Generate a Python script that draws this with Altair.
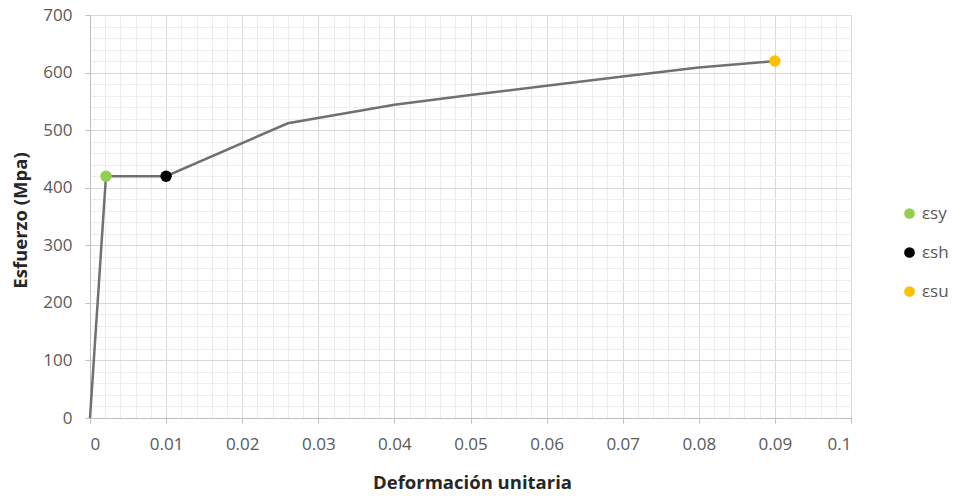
import altair as alt
import pandas as pd

# Stress-strain curve
strain = [0, 0.0021, 0.01, 0.026, 0.04, 0.05, 0.06, 0.07, 0.08, 0.09]
stress = [0, 420, 420, 512, 544, 561, 577, 593, 609, 620]

# Marked points
point_labels = ["εsy", "εsh", "εsu"]
point_strain = [0.0021, 0.01, 0.09]
point_stress = [420, 420, 620]
point_colors = ["#92d050", "#000000", "#ffc000"]

# Axis tick/grid values
x_grid = [round(i * 0.002, 3) for i in range(51)]
y_grid = [i * 20 for i in range(36)]

curve = pd.DataFrame({"strain": strain, "stress": stress})
pts = pd.DataFrame({"strain": point_strain, "stress": point_stress, "label": point_labels})

FONT = "Open Sans"
x_major = "abs(datum.value*100 - round(datum.value*100)) < 0.001"
y_major = "datum.value % 100 === 0"

x_axis = alt.Axis(
    values=x_grid,
    labelExpr=f"{x_major} ? format(datum.value, '~g') : ''",
    labelOverlap=False,
    gridColor={"condition": {"test": x_major, "value": "#d9d9d9"}, "value": "#ededed"},
    tickOpacity={"condition": {"test": x_major, "value": 1}, "value": 0},
    tickColor="#bfbfbf",
    tickSize=5,
    domainColor="#bfbfbf",
    labelFont=FONT, labelFontSize=17, labelColor="#595959", labelPadding=13,
    title="Deformación unitaria",
    titleFont=FONT, titleFontSize=18.5, titleFontWeight="bold", titleColor="#262626",
    titleX=382, titleY=64, titleBaseline="middle", titleAlign="center",
)
y_axis = alt.Axis(
    values=y_grid,
    labelExpr=f"{y_major} ? format(datum.value, 'd') : ''",
    labelOverlap=False,
    gridColor={"condition": {"test": y_major, "value": "#d9d9d9"}, "value": "#ededed"},
    tickOpacity={"condition": {"test": y_major, "value": 1}, "value": 0},
    tickColor="#bfbfbf",
    tickSize=5,
    domainColor="#bfbfbf",
    labelFont=FONT, labelFontSize=17, labelColor="#595959", labelPadding=13,
    title="Esfuerzo (Mpa)",
    titleFont=FONT, titleFontSize=18.5, titleFontWeight="bold", titleColor="#262626",
    titleX=-70, titleY=205, titleAngle=270, titleBaseline="middle", titleAlign="center",
)

xs = alt.Scale(domain=[0, 0.1], nice=False)
ys = alt.Scale(domain=[0, 700], nice=False)

line = alt.Chart(curve).mark_line(color="#707070", strokeWidth=2.5).encode(
    x=alt.X("strain:Q", scale=xs, axis=x_axis),
    y=alt.Y("stress:Q", scale=ys, axis=y_axis),
    order="strain:Q",
)

points = alt.Chart(pts).mark_circle(size=130, opacity=1).encode(
    x=alt.X("strain:Q", scale=xs, axis=x_axis),
    y=alt.Y("stress:Q", scale=ys, axis=y_axis),
    color=alt.Color(
        "label:N",
        scale=alt.Scale(domain=point_labels, range=point_colors),
        legend=alt.Legend(
            title=None, orient="none", legendX=811, legendY=190,
            symbolType="circle", symbolSize=115, symbolStrokeWidth=0,
            labelFont=FONT, labelFontSize=17, labelColor="#595959",
            rowPadding=21, labelOffset=4,
        ),
    ),
)

chart = alt.layer(line, points).properties(
    width=761, height=403,
    autosize=alt.AutoSizeParams(type="none"),
    padding={"left": 90, "top": 15, "right": 102, "bottom": 78},
).configure_view(stroke=None).configure(background="white")

chart.save("out.html", embed_options={"renderer": "svg", "actions": False})
